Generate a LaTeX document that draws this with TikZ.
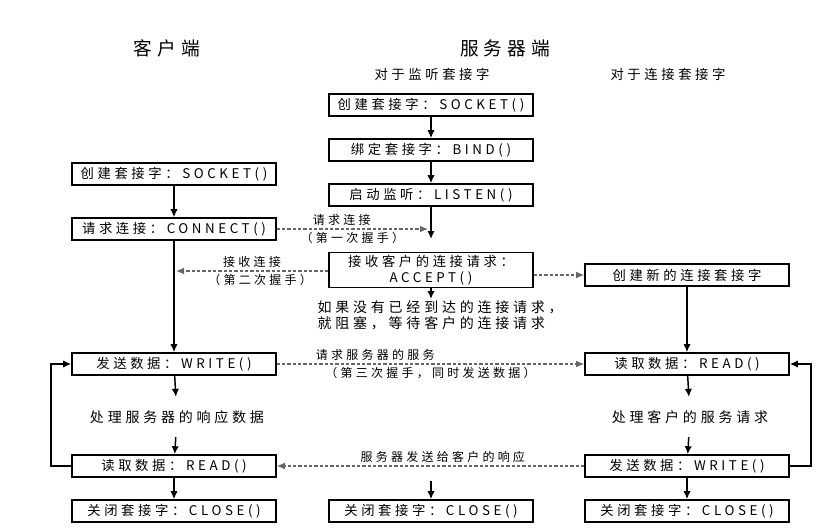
\documentclass[tikz,border=0pt]{standalone}
\usepackage{fontspec}
\setmainfont{Noto Sans CJK SC}[LetterSpace=27]
\usetikzlibrary{arrows.meta}
\tikzset{
  box/.style={draw,line width=1.2pt,minimum width=153pt,minimum height=16.5pt,inner sep=1pt,font=\fontsize{10}{12}\selectfont},
  note/.style={inner xsep=1pt,inner ysep=10pt,font=\fontsize{10.5}{12}\selectfont},
  head/.style={font=\fontsize{14}{16}\selectfont},
  sub/.style={font=\fontsize{10}{12}\selectfont},
  lbl/.style={font=\fontsize{9}{11}\selectfont,inner sep=2pt,text=black},
  flow/.style={line width=1.1pt,-{Latex[length=6pt,width=5.5pt]}},
  hand/.style={black!60,line width=0.8pt,dash pattern=on 2.5pt off 1.5pt,-{Latex[length=6pt,width=5pt]}}
}
\begin{document}
\begin{tikzpicture}[x=0.75pt,y=-0.75pt]
\useasboundingbox (0,0) rectangle (834,531);
% titles
\node[head] (tclient) at (167,48) {客户端};
\node[head] (tserver) at (505,48) {服务器端};
\node[sub] (tlisten) at (432,74) {对于监听套接字};
\node[sub] (tconn) at (668,74) {对于连接套接字};
% listening socket
\node[box] (lsock) at (431,105) {创建套接字：SOCKET()};
\node[box] (lbind) at (431,150) {绑定套接字：BIND()};
\node[box] (llisten) at (431,195) {启动监听：LISTEN()};
\coordinate (lwait) at (431,239);
\node[box,minimum height=26pt,align=center] (laccept) at (431,270) {接收客户的连接请求：\\ACCEPT()};
\node[note,anchor=north west,align=left,inner ysep=1pt] (lblock) at (316,299) {如果没有已经到达的连接请求，\\就阻塞，等待客户的连接请求};
\coordinate (lend) at (431,481);
\node[box] (lclose) at (431,511) {关闭套接字：CLOSE()};
% client
\node[box] (csock) at (174,174) {创建套接字：SOCKET()};
\node[box] (cconn) at (174,229) {请求连接：CONNECT()};
\node[box] (cwrite) at (174,364) {发送数据：WRITE()};
\node[note] (cproc) at (177,417) {处理服务器的响应数据};
\node[box] (cread) at (174,466) {读取数据：READ()};
\node[box] (cclose) at (174,511) {关闭套接字：CLOSE()};
% connected socket
\node[box] (snew) at (687,275) {创建新的连接套接字};
\node[box] (sread) at (687,364) {读取数据：READ()};
\node[note] (sproc) at (690,417) {处理客户的服务请求};
\node[box] (swrite) at (687,466) {发送数据：WRITE()};
\node[box] (sclose) at (687,511) {关闭套接字：CLOSE()};
\coordinate (syn) at (428,229);
\coordinate (synack) at (176,271);
% solid flow
\draw[flow] (lsock) -- (lbind);
\draw[flow] (lbind) -- (llisten);
\draw[flow] (llisten) -- (lwait);
\draw[flow] (laccept) -- (laccept.south |- lblock.north);
\draw[flow] (lend) -- (lclose);
\draw[flow] (csock) -- (cconn);
\draw[flow] (cconn) -- (cwrite);
\draw[flow] (cwrite) -- (cproc);
\draw[flow] (cproc) -- (cread);
\draw[flow] (cread) -- (cclose);
\draw[flow] (cread.west) -- ++(-20,0) |- (cwrite.west);
\draw[flow] (snew) -- (sread);
\draw[flow] (sread) -- (sproc);
\draw[flow] (sproc) -- (swrite);
\draw[flow] (swrite) -- (sclose);
\draw[flow] (swrite.east) -- ++(21,0) |- (sread.east);
% handshakes
\draw[hand] (cconn.east) -- (syn) node[lbl,midway,above,xshift=-8pt] {请求连接} node[lbl,midway,below] {（第一次握手）};
\draw[hand] (laccept.west |- synack) -- (synack) node[lbl,midway,above] {接收连接} node[lbl,midway,below,xshift=6pt] {（第二次握手）};
\draw[hand] (laccept.east |- snew) -- (snew);
\draw[hand] (cwrite.east) -- (sread.west) node[lbl,pos=0.32,above] {请求服务器的服务} node[lbl,midway,below] {（第三次握手，同时发送数据）};
\draw[hand] (swrite.west) -- (cread.east) node[lbl,pos=0.46,above] {服务器发送给客户的响应};
\end{tikzpicture}
\end{document}
